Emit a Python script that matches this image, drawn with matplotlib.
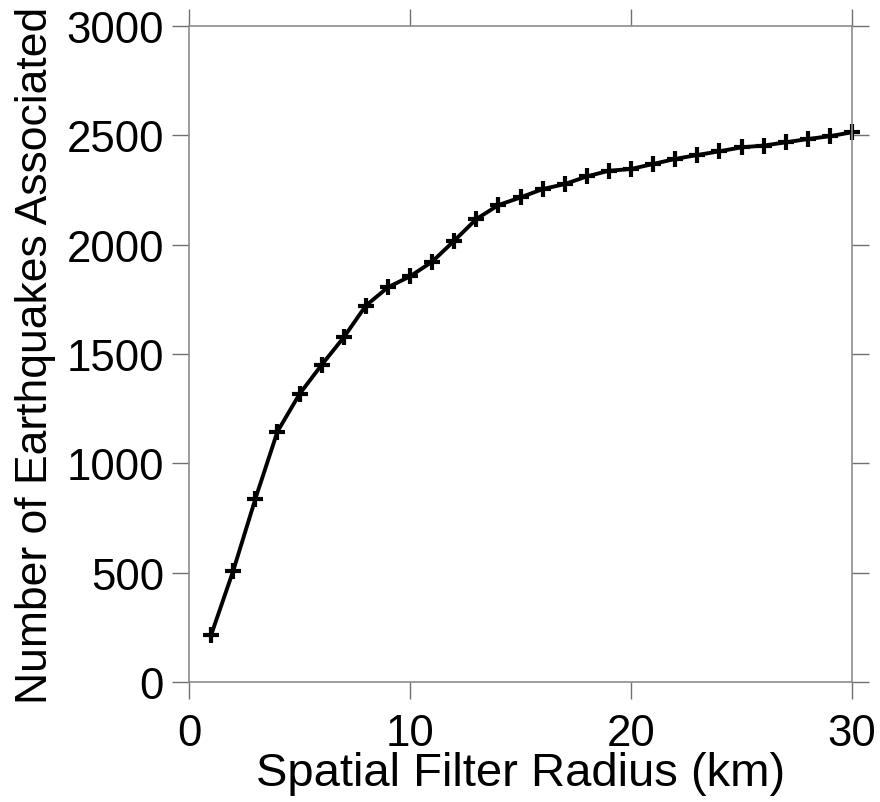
"""Earthquakes associated vs spatial filter radius."""

import matplotlib
matplotlib.use("Agg")
import matplotlib.pyplot as plt

# ── Data ─────────────────────────────────────────────────────────────────────

radius_km = list(range(1, 31))
n_associated = [
    215, 509, 837, 1145, 1317, 1450, 1576, 1721, 1805, 1855,
    1922, 2018, 2117, 2181, 2216, 2254, 2277, 2312, 2338, 2346,
    2369, 2392, 2410, 2427, 2445, 2453, 2468, 2483, 2496, 2514,
]
x_ticks = [0, 10, 20, 30]
y_ticks = [0, 500, 1000, 1500, 2000, 2500, 3000]

plt.rcParams["font.family"] = ["Liberation Sans", "DejaVu Sans"]

fig = plt.figure(figsize=(8.8, 8.03), dpi=100)
ax = fig.add_axes([0.2148, 0.1494, 0.7534, 0.8170])

ax.plot(radius_km, n_associated, "-", color="black", linewidth=2.8,
        marker="+", markersize=11, markeredgewidth=3, clip_on=False)

ax.set_xlim(0, 30)
ax.set_ylim(0, 3000)
ax.set_xticks(x_ticks)
ax.set_yticks(y_ticks)

for side in ("left", "right", "top", "bottom"):
    ax.spines[side].set_color("#8c8c8c")
    ax.spines[side].set_linewidth(1.2)

ax.tick_params(axis="both", which="both", direction="out", length=12,
               width=1.0, color="#707070", labelsize=31.5, pad=6,
               top=True, right=True, labeltop=False, labelright=False)
ax.tick_params(axis="x", pad=10)

ax.set_xlabel("Spatial Filter Radius (km)", fontsize=34, labelpad=-2)
ax.set_ylabel("Number of Earthquakes Associated", fontsize=32)
ax.yaxis.set_label_coords(-0.20, 0.5)

fig.savefig("out.png", dpi=100)
plt.close(fig)
